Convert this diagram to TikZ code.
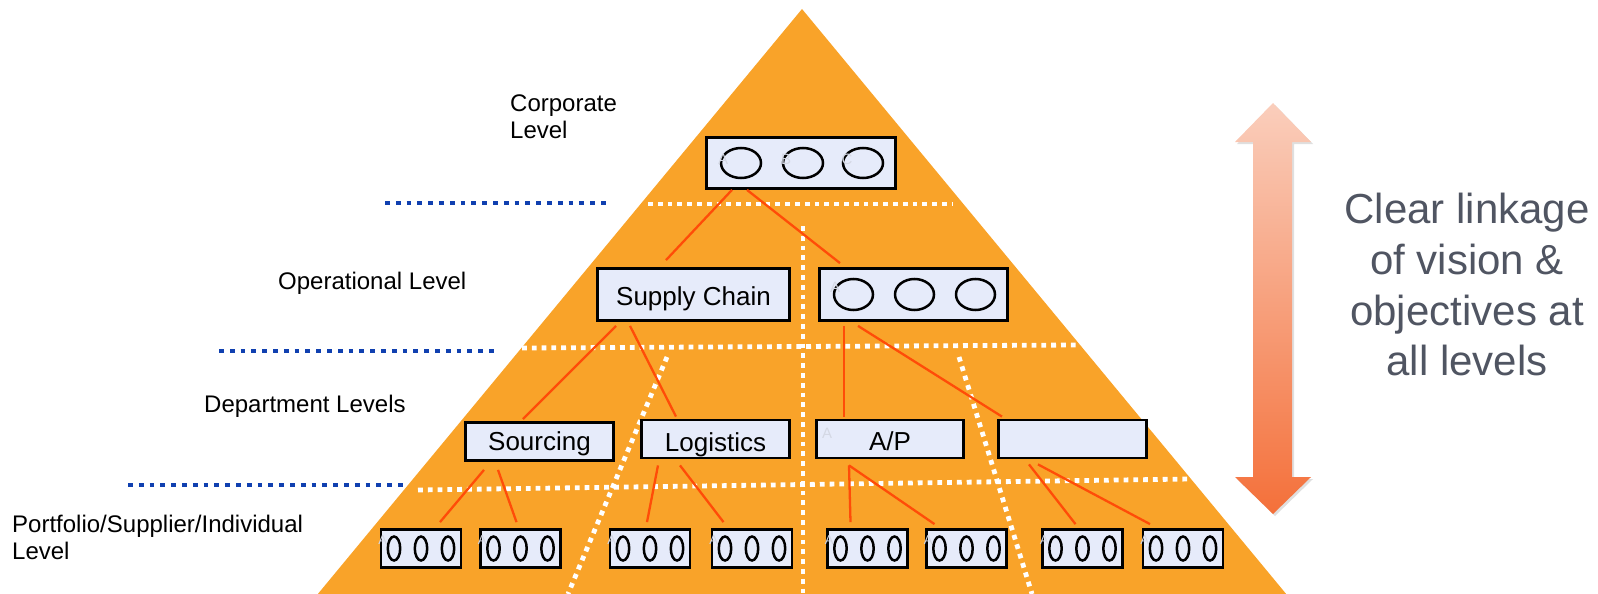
\documentclass[tikz,border=0pt]{standalone}
\usepackage{fontspec}
\setmainfont{Liberation Sans}
\usetikzlibrary{calc,shadows}
\definecolor{pyr}{RGB}{249,163,41}
\definecolor{boxfill}{RGB}{230,235,250}
\definecolor{linkred}{RGB}{255,76,8}
\definecolor{guide}{RGB}{16,64,176}
\definecolor{faint}{RGB}{212,216,228}
\definecolor{caption}{RGB}{80,85,98}
\definecolor{arrowtop}{RGB}{250,206,188}
\definecolor{arrowbot}{RGB}{244,112,58}

\begin{document}
\begin{tikzpicture}[x=1pt,y=-1pt,
  unitbox/.style={draw=black,line width=2.8pt,fill=boxfill,inner sep=0pt,
                  font=\fontsize{26}{30}\selectfont,text height=23pt,text depth=2pt},
  leafbox/.style={draw=black,line width=2.8pt,fill=boxfill,inner sep=0pt,
                  minimum width=80pt,minimum height=38pt},
  oval/.style={draw=black,line width=2.5pt},
  connector/.style={draw=linkred,line width=2.3pt},
  whitedots/.style={draw=white,line width=4.8pt,dash pattern=on 4.8pt off 5pt},
  bluedots/.style={draw=guide,line width=4.2pt,dash pattern=on 4.8pt off 6pt},
  levellabel/.style={anchor=base west,inner sep=0pt,font=\fontsize{24}{27}\selectfont},
  ghost/.style={text=faint,inner sep=0pt,font=\fontsize{15}{15}\selectfont},
  captionline/.style={anchor=base,inner sep=0pt,text=caption,font=\fontsize{42}{50}\selectfont},
]
\useasboundingbox (0,0) rectangle (1598,594);

% pyramid
\fill[pyr] (802,9) -- (1287,595) -- (317,595) -- cycle;

% level guides on the left
\draw[bluedots] (385,203) -- (608,203);
\draw[bluedots] (219,351) -- (497,351);
\draw[bluedots] (128,485) -- (406,485);

% white dotted partitions inside the pyramid
\draw[whitedots] (648,204) -- (953,204);
\draw[whitedots] (522,348) -- (1077,345);
\draw[whitedots] (418,490) -- (1190,479);
\draw[whitedots] (803,226) -- (803,594);
\draw[whitedots] (667,357) -- (568,594);
\draw[whitedots] (959,357) -- (1032,594);

% level labels
\node[levellabel] (lvc1) at (510,111) {Corporate};
\node[levellabel] (lvc2) at (510,138) {Level};
\node[levellabel] (lvo) at (278,289) {Operational Level};
\node[levellabel] (lvd) at (204,412) {Department Levels};
\node[levellabel] (lvp1) at (12,532) {Portfolio/Supplier/Individual};
\node[levellabel] (lvp2) at (12,559) {Level};

% corporate and operational units
\node[unitbox,minimum width=189pt,minimum height=51pt] (corp) at (801,163) {};
\node[unitbox,minimum width=192pt,minimum height=52pt] (sc) at (693.5,294.5) {Supply Chain};
\node[unitbox,minimum width=188pt,minimum height=52pt] (ops) at (913.5,294.5) {};

\foreach \dx in {-60,2,62}
  \draw[oval] ([xshift=\dx pt]corp.center) ellipse[x radius=20pt,y radius=15pt];
\foreach \dx in {-60,1,62}
  \draw[oval] ([xshift=\dx pt]ops.center) ellipse[x radius=19.5pt,y radius=15.5pt];

\node[ghost] (ga) at (723,159) {A};
\node[ghost] (gb) at (786,159) {B};
\node[ghost] (gc) at (847,159) {C};
\node[ghost] (go) at (835,287) {A};

% department units
\node[unitbox,minimum width=148pt,minimum height=38pt,text height=19pt] (src) at (539.5,441.5) {Sourcing};
\node[unitbox,minimum width=148pt,minimum height=38pt,text height=27pt] (log) at (715.5,439) {Logistics};
\node[unitbox,minimum width=147pt,minimum height=38pt,text height=24pt] (ap) at (890,439) {A/P};
\node[unitbox,minimum width=148pt,minimum height=38pt] (emp) at (1072.5,439) {};
\node[ghost] (gap) at (827,433) {A};

% individual units
\foreach \n/\x in {l1/421,l2/520.5,l3/650,l4/752,l5/867.5,l6/966.5,l7/1082.5,l8/1183} {
  \node[leafbox] (\n) at (\x,548.5) {};
  \foreach \dx in {-27,0,27}
    \draw[oval] ([xshift=\dx pt]\n.center) ellipse[x radius=6.2pt,y radius=12pt];
  \node[ghost,font=\fontsize{13}{13}\selectfont] (\n-a) at ([xshift=3pt,yshift=8pt]\n.west) {A};
}

% connectors
\draw[connector] ([xshift=-69pt]corp.south) -- ([xshift=-27.5pt,yshift=7pt]sc.north);
\draw[connector] ([xshift=-54pt]corp.south) -- ([xshift=-73.5pt,yshift=4pt]ops.north);
\draw[connector] ([xshift=-77.5pt,yshift=-4pt]sc.south) -- ([xshift=-16.5pt,yshift=2pt]src.north);
\draw[connector] ([xshift=-63.5pt,yshift=-4pt]sc.south) -- ([xshift=-39.5pt,yshift=2pt]log.north);
\draw[connector] ([xshift=-69.5pt,yshift=-4pt]ops.south) -- ([xshift=-46pt,yshift=2pt]ap.north);
\draw[connector] ([xshift=-55.5pt,yshift=-4pt]ops.south) -- ([xshift=-70.5pt,yshift=2pt]emp.north);
\draw[connector] ([xshift=-55.5pt,yshift=-8pt]src.south) -- ([xshift=19pt,yshift=6pt]l1.north);
\draw[connector] ([xshift=-41.5pt,yshift=-8pt]src.south) -- ([xshift=-4pt,yshift=6pt]l2.north);
\draw[connector] ([xshift=-57.5pt,yshift=-6pt]log.south) -- ([xshift=-3pt,yshift=6pt]l3.north);
\draw[connector] ([xshift=-35.5pt,yshift=-6pt]log.south) -- ([xshift=-28.5pt,yshift=6pt]l4.north);
\draw[connector] ([xshift=-41pt,yshift=-6pt]ap.south) -- ([xshift=-17pt,yshift=6pt]l5.north);
\draw[connector] ([xshift=-41pt,yshift=-6pt]ap.south) -- ([xshift=-32pt,yshift=4pt]l6.north);
\draw[connector] ([xshift=-43.5pt,yshift=-5pt]emp.south) -- ([xshift=-7pt,yshift=4pt]l7.north);
\draw[connector] ([xshift=-34.5pt,yshift=-5pt]emp.south) -- ([xshift=-33pt,yshift=4pt]l8.north);

% double-headed linkage arrow
\path[top color=arrowtop,bottom color=arrowbot,
      drop shadow={opacity=0.25,shadow xshift=2pt,shadow yshift=-2pt}]
  (1273,103) -- (1311,142) -- (1292,142) -- (1292,477) -- (1311,477)
  -- (1273,514) -- (1235,477) -- (1253,477) -- (1253,142) -- (1235,142) -- cycle;

% caption
\node[captionline] (cap1) at (1467,223) {Clear linkage};
\node[captionline] (cap2) at (1467,274) {of vision \&};
\node[captionline] (cap3) at (1467,325) {objectives at};
\node[captionline] (cap4) at (1467,375) {all levels};
\end{tikzpicture}
\end{document}
